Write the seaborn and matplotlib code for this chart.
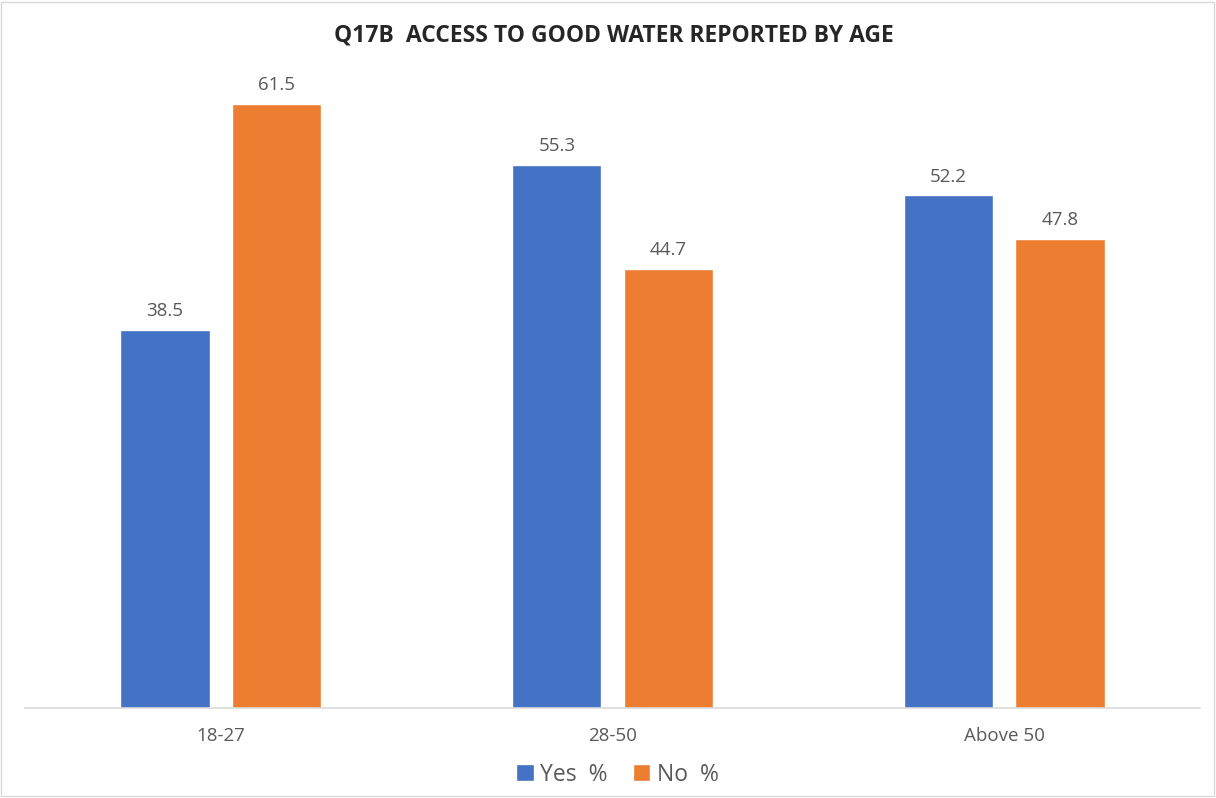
import pandas as pd
import seaborn as sns
import matplotlib.pyplot as plt
from matplotlib.patches import Rectangle

# values
age_groups = ["18-27", "28-50", "Above 50"]
yes_pct = [38.5, 55.3, 52.2]
no_pct = [61.5, 44.7, 47.8]
series_names = ["Yes  %", "No  %"]

df = pd.DataFrame({
    "Age": age_groups * 2,
    "Percent": yes_pct + no_pct,
    "Answer": [series_names[0]] * 3 + [series_names[1]] * 3,
})

sns.set_style("white")
plt.rcParams['font.family'] = ['Open Sans', 'DejaVu Sans']

text_color = "#595959"
fig = plt.figure(figsize=(12.16, 7.98), dpi=100)
ax = fig.add_axes([0.0206, 0.1128, 0.9664, 0.812])

sns.barplot(data=df, x="Age", y="Percent", hue="Answer",
            palette=["#4472C4", "#ED7D31"], width=0.57, gap=0.2,
            saturation=1, ax=ax, legend=True)

for container in ax.containers:
    ax.bar_label(container, fmt="%.1f", padding=7, fontsize=13.5, color=text_color)

ax.set_ylim(0, 66)
ax.set_xlim(-0.5, 2.5)
ax.set_xlabel("")
ax.set_ylabel("")
ax.set_yticks([])
ax.tick_params(axis="x", length=0, pad=14, labelsize=13.5, labelcolor=text_color)
for side in ["left", "right", "top"]:
    ax.spines[side].set_visible(False)
ax.spines["bottom"].set_color("#D9D9D9")
ax.spines["bottom"].set_linewidth(1.2)

handles, labels = ax.get_legend_handles_labels()
ax.get_legend().remove()
fig.legend(handles, labels, loc="center", bbox_to_anchor=(0.508, 0.029),
           ncol=2, frameon=False, fontsize=16.5, labelcolor=text_color,
           handlelength=0.75, handleheight=0.75, handletextpad=0.3,
           columnspacing=1.1)

fig.suptitle("Q17B  ACCESS TO GOOD WATER REPORTED BY AGE", y=0.97,
             fontsize=16.5, fontweight="bold", color="#262626", x=0.505)

fig.patches.append(Rectangle((0.001, 0.002), 0.997, 0.996, transform=fig.transFigure,
                             fill=False, edgecolor="#D9D9D9", linewidth=1))

plt.savefig("out.png", dpi=100)
plt.close()
